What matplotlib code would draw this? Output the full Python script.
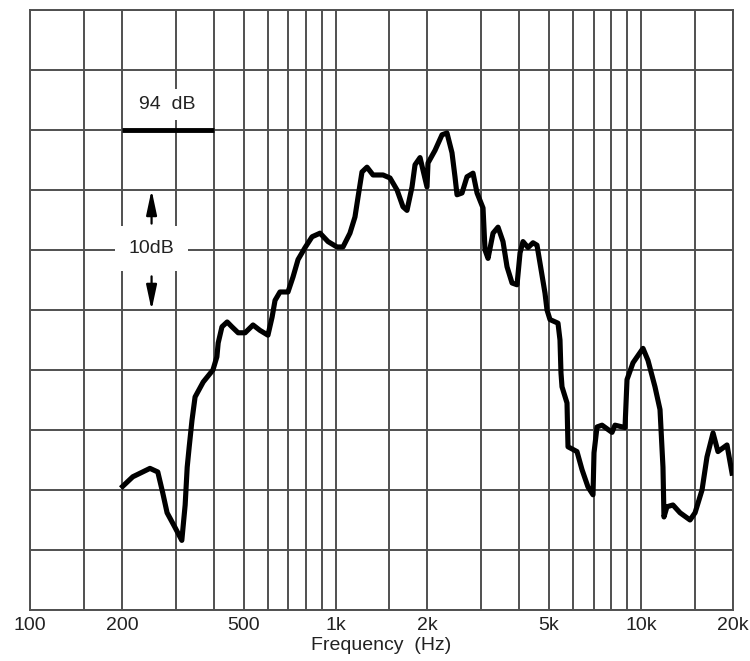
import matplotlib.pyplot as plt

plt.rcParams['font.family'] = ['Liberation Sans Narrow', 'Liberation Sans', 'DejaVu Sans']

# response curve
freq = [201, 217, 247, 262, 272, 281, 298, 314, 322, 327, 332, 339, 347, 369, 397,
        409, 413, 425, 442, 458, 480, 506, 537, 566, 601, 620, 634, 658, 699, 726,
        754, 795, 838, 890, 945, 1011, 1058, 1115, 1158, 1185, 1221, 1268, 1327,
        1431, 1508, 1590, 1663, 1714, 1780, 1821, 1891, 1993, 2008, 2117, 2232,
        2317, 2406, 2461, 2499, 2595, 2694, 2819, 2906, 3040, 3086, 3157, 3278,
        3404, 3534, 3643, 3783, 3928, 4018, 4109, 4267, 4431, 4566, 4671, 4850,
        4924, 5036, 5349, 5430, 5471, 5513, 5725, 5768, 6172, 6410, 6706, 6964,
        7017, 7178, 7454, 8037, 8220, 8864, 8999, 9415, 10150, 10540, 11110,
        11540, 11800, 11890, 12160, 12720, 13420, 14470, 15030, 15840, 16440,
        17210, 17860, 19120, 19860]
level = [64.3, 65.1, 65.8, 65.5, 63.75, 62.1, 60.9, 59.8, 62.75, 65.9, 67.6, 69.8,
         71.75, 73.0, 74.0, 75.1, 76.25, 77.6, 78.0, 77.6, 77.1, 77.1, 77.75, 77.3,
         76.9, 78.4, 79.8, 80.5, 80.5, 81.75, 83.2, 84.2, 85.1, 85.4, 84.7, 84.25,
         84.25, 85.4, 86.75, 88.4, 90.5, 90.9, 90.25, 90.25, 90.0, 89.0, 87.6, 87.3,
         89.25, 91.1, 91.7, 89.25, 91.25, 92.3, 93.6, 93.75, 92.1, 90.1, 88.6, 88.75,
         90.1, 90.4, 88.75, 87.5, 84.0, 83.3, 85.4, 85.9, 84.7, 82.6, 81.25, 81.1,
         83.75, 84.7, 84.2, 84.6, 84.4, 82.9, 80.4, 79.0, 78.2, 77.9, 76.5, 73.75,
         72.6, 71.25, 67.6, 67.2, 65.7, 64.25, 63.6, 67.1, 69.25, 69.4, 68.8, 69.4,
         69.2, 73.2, 74.6, 75.8, 74.8, 72.6, 70.7, 65.9, 61.75, 62.6, 62.75, 62.1,
         61.5, 62.1, 64.0, 66.75, 68.75, 67.2, 67.75, 65.4]

grid_freqs = [100, 150, 200, 300, 400, 500, 600, 700, 800, 900, 1000, 1500, 2000,
              3000, 4000, 5000, 6000, 7000, 8000, 9000, 10000, 15000, 20000]
tick_labels = {100: '100', 200: '200', 500: '500', 1000: '1k', 2000: '2k',
               5000: '5k', 10000: '10k', 20000: '20k'}
db_lines = list(range(54, 105, 5))

ref_level = 94
ref_span = [200, 400]

fig = plt.figure(figsize=(7.5, 6.61), dpi=100)
ax = fig.add_axes([0.04, 0.0772, 0.9373, 0.9077])

ax.set_xscale('log')
ax.set_xlim(100, 20000)
ax.set_ylim(54, 104)
ax.set_xticks(grid_freqs)
ax.set_xticks([], minor=True)
ax.set_xticklabels([tick_labels.get(f, '') for f in grid_freqs], fontsize=14, color='#222222')
ax.set_yticks(db_lines)
ax.set_yticklabels([])
ax.tick_params(length=0, pad=5)
ax.grid(True, color='#505050', lw=1.4)
for s in ax.spines.values():
    s.set_color('#505050')
    s.set_linewidth(1.4)

ax.plot(freq, level, color='black', lw=3.7, solid_joinstyle='round', zorder=4)

# 94 dB reference bar
ax.plot(ref_span, [ref_level, ref_level], color='black', lw=3.5, solid_capstyle='butt', zorder=4)
ax.text(281, 96.1, '94  dB', ha='center', va='center', fontsize=14, color='#222222',
        bbox=dict(facecolor='white', edgecolor='none', pad=5), zorder=3)

# 10 dB scale marker
ax.text(250, 84.1, '10dB', ha='center', va='center', fontsize=14, color='#222222',
        bbox=dict(facecolor='white', edgecolor='none', pad=10), zorder=3)
head = '-|>,head_length=0.75,head_width=0.16'
ax.annotate('', xy=(250, 89), xytext=(250, 86.2),
            arrowprops=dict(arrowstyle=head, color='black', lw=1.6, mutation_scale=20,
                            shrinkA=0, shrinkB=0))
ax.annotate('', xy=(250, 79), xytext=(250, 81.8),
            arrowprops=dict(arrowstyle=head, color='black', lw=1.6, mutation_scale=20,
                            shrinkA=0, shrinkB=0))

ax.set_xlabel('Frequency  (Hz)', fontsize=14, labelpad=2, color='#222222')

plt.savefig('out.png')
